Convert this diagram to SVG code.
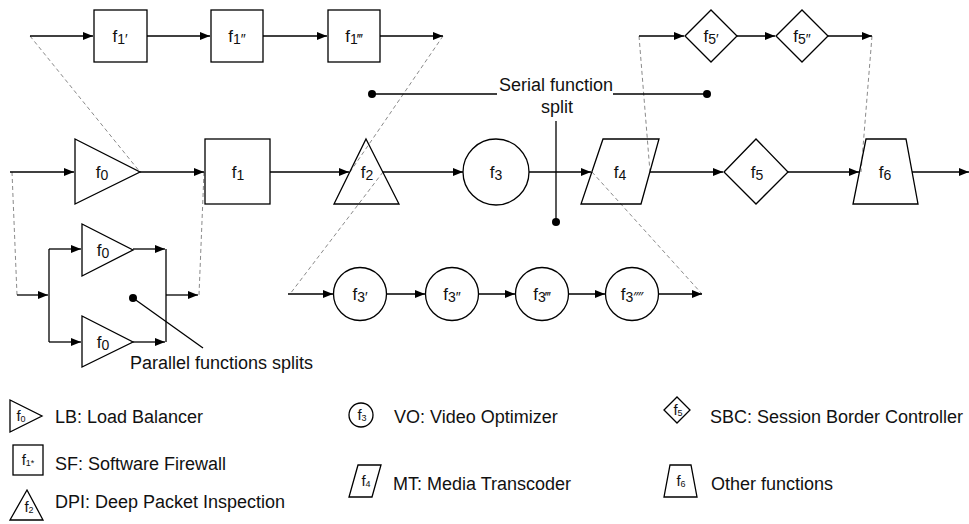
<svg xmlns="http://www.w3.org/2000/svg" width="969" height="524" viewBox="0 0 969 524">
<defs>
<marker id="ah" markerUnits="userSpaceOnUse" viewBox="0 0 10 8" markerWidth="10" markerHeight="8" refX="10" refY="4" orient="auto">
<path d="M0,0 L10,4 L0,8 z" fill="#000"/>
</marker>
</defs>
<style>
.s{fill:none;stroke:#000;stroke-width:1.3}
.c{fill:none;stroke:#000;stroke-width:1.3;marker-end:url(#ah)}
.l{fill:none;stroke:#000;stroke-width:1.3}
.d{fill:none;stroke:#8a8a8a;stroke-width:1;stroke-dasharray:4 3}
.t{font-family:"Liberation Sans",Arial,Helvetica,sans-serif;font-size:18px;fill:#111}
.n{font-family:"Liberation Sans",Arial,Helvetica,sans-serif;font-size:17px;fill:#111;text-anchor:middle}
.sb{font-size:14px}
.g{font-family:"Liberation Sans",Arial,Helvetica,sans-serif;font-size:15px;fill:#111;text-anchor:middle}
.gs{font-size:9px}
.dot{fill:#000}
</style>

<g id="dashed-expansions">
<line class="d" x1="30" y1="36" x2="140" y2="172"/>
<line class="d" x1="443" y1="36" x2="350" y2="172"/>
<line class="d" x1="383" y1="172" x2="290" y2="294"/>
<line class="d" x1="592" y1="172" x2="702" y2="294"/>
<line class="d" x1="639" y1="36" x2="650" y2="172"/>
<line class="d" x1="872" y1="36" x2="861" y2="172"/>
<line class="d" x1="12" y1="172" x2="17" y2="295"/>
<line class="d" x1="204" y1="172" x2="199" y2="295"/>
</g>

<g id="connectors">
<line class="c" x1="10" y1="172" x2="74" y2="172"/>
<line class="c" x1="140" y1="172" x2="204" y2="172"/>
<line class="c" x1="270" y1="172" x2="349" y2="172"/>
<line class="c" x1="383" y1="172" x2="463" y2="172"/>
<line class="c" x1="529" y1="172" x2="591" y2="172"/>
<line class="c" x1="650" y1="172" x2="723" y2="172"/>
<line class="c" x1="788" y1="172" x2="859" y2="172"/>
<line class="c" x1="912" y1="172" x2="969" y2="172"/>
<line class="c" x1="30" y1="36" x2="93" y2="36"/>
<line class="c" x1="147" y1="36" x2="210" y2="36"/>
<line class="c" x1="263" y1="36" x2="327" y2="36"/>
<line class="c" x1="380" y1="36" x2="443" y2="36"/>
<line class="c" x1="639" y1="36" x2="684" y2="36"/>
<line class="c" x1="737" y1="36" x2="775" y2="36"/>
<line class="c" x1="828" y1="36" x2="872" y2="36"/>
<line class="c" x1="288" y1="294" x2="333" y2="294"/>
<line class="c" x1="387" y1="294" x2="425" y2="294"/>
<line class="c" x1="478" y1="294" x2="515" y2="294"/>
<line class="c" x1="568" y1="294" x2="605" y2="294"/>
<line class="c" x1="659" y1="294" x2="702" y2="294"/>
<line class="c" x1="17" y1="295" x2="48" y2="295"/>
<line class="l" x1="49" y1="249" x2="49" y2="342"/>
<line class="c" x1="49" y1="249" x2="81" y2="249"/>
<line class="c" x1="49" y1="342" x2="81" y2="342"/>
<line class="c" x1="133" y1="249" x2="165" y2="249"/>
<line class="c" x1="133" y1="342" x2="165" y2="342"/>
<line class="l" x1="166" y1="249" x2="166" y2="342"/>
<line class="c" x1="166" y1="295" x2="198" y2="295"/>
</g>

<g id="f0"><polygon class="s" points="75,139 75,204 140,172"/><text class="n" x="102" y="178">f<tspan class="sb" dy="2">0</tspan></text></g>
<g id="f1"><rect class="s" x="205" y="139" width="65" height="65"/><text class="n" x="238" y="178">f<tspan class="sb" dy="2">1</tspan></text></g>
<g id="f2"><polygon class="s" points="366,139 399,204 334,204"/><text class="n" x="367" y="178">f<tspan class="sb" dy="2">2</tspan></text></g>
<g id="f3"><circle class="s" cx="496" cy="172" r="33"/><text class="n" x="496" y="178">f<tspan class="sb" dy="2">3</tspan></text></g>
<g id="f4"><polygon class="s" points="603,139 659,139 641,204 581,204"/><text class="n" x="620" y="178">f<tspan class="sb" dy="2">4</tspan></text></g>
<g id="f5"><polygon class="s" points="724,172 756,139 788,172 756,204"/><text class="n" x="757" y="178">f<tspan class="sb" dy="2">5</tspan></text></g>
<g id="f6"><polygon class="s" points="866,139 906,139 918,204 853,204"/><text class="n" x="885" y="178">f<tspan class="sb" dy="2">6</tspan></text></g>

<g id="f1p1"><rect class="s" x="94" y="10" width="53" height="52"/><text class="n" x="120" y="42">f<tspan class="sb" dy="2">1′</tspan></text></g>
<g id="f1p2"><rect class="s" x="211" y="10" width="52" height="52"/><text class="n" x="237" y="42">f<tspan class="sb" dy="2">1″</tspan></text></g>
<g id="f1p3"><rect class="s" x="328" y="10" width="52" height="52"/><text class="n" x="354" y="42">f<tspan class="sb" dy="2">1‴</tspan></text></g>

<g id="f5p1"><polygon class="s" points="685,36 711,10 737,36 711,62"/><text class="n" x="711" y="42">f<tspan class="sb" dy="2">5′</tspan></text></g>
<g id="f5p2"><polygon class="s" points="776,36 802,10 828,36 802,62"/><text class="n" x="802" y="42">f<tspan class="sb" dy="2">5″</tspan></text></g>

<g id="f3p1"><circle class="s" cx="360" cy="294" r="26.5"/><text class="n" x="360" y="300">f<tspan class="sb" dy="2">3′</tspan></text></g>
<g id="f3p2"><circle class="s" cx="452" cy="294" r="26.5"/><text class="n" x="452" y="300">f<tspan class="sb" dy="2">3″</tspan></text></g>
<g id="f3p3"><circle class="s" cx="542" cy="294" r="26.5"/><text class="n" x="542" y="300">f<tspan class="sb" dy="2">3‴</tspan></text></g>
<g id="f3p4"><circle class="s" cx="632" cy="294" r="26.5"/><text class="n" x="632" y="300">f<tspan class="sb" dy="2">3⁗</tspan></text></g>

<g id="f0a"><polygon class="s" points="82,224 82,276 133,250"/><text class="n" x="103" y="256">f<tspan class="sb" dy="2">0</tspan></text></g>
<g id="f0b"><polygon class="s" points="82,316 82,367 133,342"/><text class="n" x="103" y="348">f<tspan class="sb" dy="2">0</tspan></text></g>

<g id="serial-split">
<line class="l" x1="372" y1="94" x2="497" y2="94"/>
<line class="l" x1="613" y1="94" x2="707" y2="94"/>
<circle class="dot" cx="372" cy="94" r="4"/>
<circle class="dot" cx="707" cy="94" r="4"/>
<line class="l" x1="556" y1="121" x2="556" y2="222"/>
<circle class="dot" cx="556" cy="222" r="4"/>
<text class="t" x="556" y="91" text-anchor="middle">Serial function</text>
<text class="t" x="557" y="113" text-anchor="middle">split</text>
</g>

<g id="parallel-split">
<circle class="dot" cx="133" cy="298" r="4"/>
<line class="l" x1="133" y1="298" x2="203" y2="348"/>
<text class="t" x="130" y="369">Parallel functions splits</text>
</g>

<g id="legend">
<g id="leg-lb"><polygon class="s" points="10,400 10,432 42,416"/><text class="g" x="21" y="421">f<tspan class="gs" dy="1">0</tspan></text><text class="t" x="55" y="423">LB: Load Balancer</text></g>
<g id="leg-sf"><rect class="s" x="13" y="445" width="30" height="30"/><text class="g" x="28" y="465">f<tspan class="gs" dy="1">1*</tspan></text><text class="t" x="55" y="470">SF: Software Firewall</text></g>
<g id="leg-dpi"><polygon class="s" points="27,490 43,520 10,520"/><text class="g" x="29" y="512">f<tspan class="gs" dy="1">2</tspan></text><text class="t" x="55" y="508">DPI: Deep Packet Inspection</text></g>
<g id="leg-vo"><circle class="s" cx="361" cy="415" r="12"/><text class="g" x="362" y="420">f<tspan class="gs" dy="1">3</tspan></text><text class="t" x="394" y="423">VO: Video Optimizer</text></g>
<g id="leg-mt"><polygon class="s" points="358,465 381,465 372,497 349,497"/><text class="g" x="366" y="486">f<tspan class="gs" dy="1">4</tspan></text><text class="t" x="393" y="490">MT: Media Transcoder</text></g>
<g id="leg-sbc"><polygon class="s" points="664,410 677,397 690,410 677,423"/><text class="g" x="678" y="415">f<tspan class="gs" dy="1">5</tspan></text><text class="t" x="710" y="423">SBC: Session Border Controller</text></g>
<g id="leg-other"><polygon class="s" points="670,465 691,465 697,497 664,497"/><text class="g" x="681" y="486">f<tspan class="gs" dy="1">6</tspan></text><text class="t" x="711" y="490">Other functions</text></g>
</g>
</svg>
